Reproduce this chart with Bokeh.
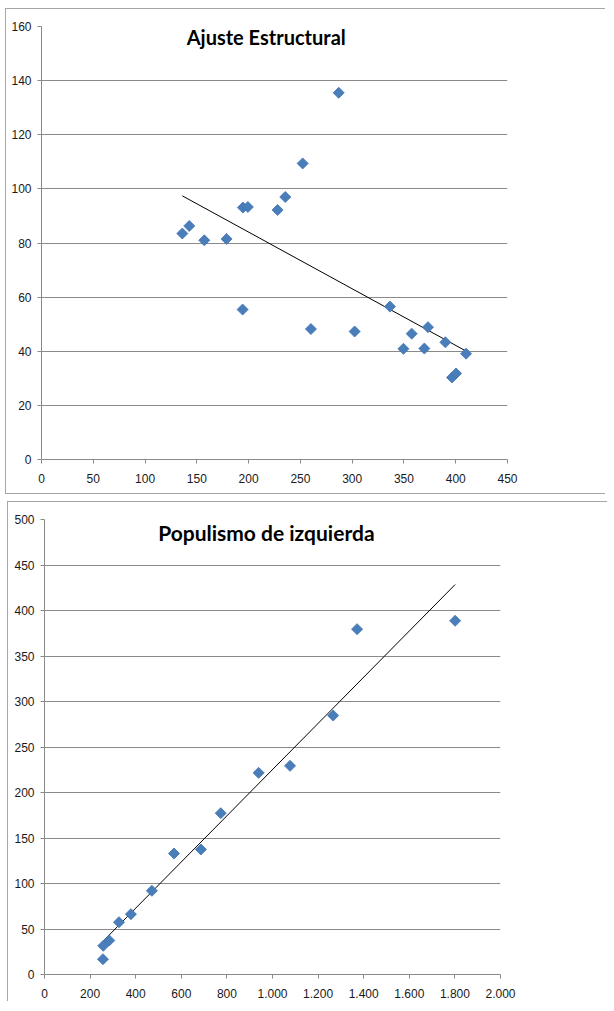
import numpy as np
from bokeh.plotting import figure
from bokeh.models import FixedTicker, Label, Range1d, ColumnDataSource
from bokeh.embed import file_html
from bokeh.resources import INLINE

# ---- Chart 1: Ajuste Estructural ----
title1 = "Ajuste Estructural"
x1 = [136, 142.7, 157.2, 178.7, 194.5, 199.3, 228, 235.4, 252.2, 287,
      194.2, 260.2, 302.4, 336.5, 349.5, 357.5, 369.7, 373.2, 390, 396.4, 400.3, 410]
y1 = [83.5, 86.3, 81, 81.5, 93.1, 93.3, 92.2, 97, 109.4, 135.5,
      55.4, 48.2, 47.3, 56.5, 40.9, 46.5, 41, 48.9, 43.3, 30.3, 31.8, 39.1]
xticks1 = [0, 50, 100, 150, 200, 250, 300, 350, 400, 450]
yticks1 = [0, 20, 40, 60, 80, 100, 120, 140, 160]

# ---- Chart 2: Populismo de izquierda ----
title2 = "Populismo de izquierda"
x2 = [1371, 1801, 1266, 1077, 939, 773, 686, 568, 471, 379, 326.6, 284, 257.7, 256.4]
y2 = [379.5, 388.7, 284.6, 229.3, 221.6, 177.3, 137.4, 133, 92, 66.3, 57.5, 37.4, 31.5, 16.8]
xticks2 = [0, 200, 400, 600, 800, 1000, 1200, 1400, 1600, 1800, 2000]
xlabels2 = ["0", "200", "400", "600", "800", "1.000", "1.200", "1.400", "1.600", "1.800", "2.000"]
yticks2 = [0, 50, 100, 150, 200, 250, 300, 350, 400, 450, 500]

MARK = "#4A7EBB"
GRID = "#8a8a8a"
TICKFONT = "Liberation Sans"
TITLEFONT = "Lato"
BOX = "1px solid #a6a6a6"


def make(xs, ys, xt, yt, xr, yr, title, tx, ty, tsize, w, h, borders, styles):
    p = figure(width=w, height=h, output_backend="svg", toolbar_location=None,
               x_range=Range1d(*xr), y_range=Range1d(*yr),
               min_border_left=borders[0], min_border_right=borders[1],
               min_border_top=borders[2], min_border_bottom=borders[3])
    p.outline_line_color = None
    p.background_fill_color = "white"
    p.border_fill_color = "white"
    p.xgrid.grid_line_color = None
    p.ygrid.grid_line_color = GRID
    p.ygrid.grid_line_width = 1
    p.xaxis.ticker = FixedTicker(ticks=xt)
    p.yaxis.ticker = FixedTicker(ticks=yt)
    for ax in (p.xaxis, p.yaxis):
        ax.axis_line_color = GRID
        ax.major_tick_line_color = GRID
        ax.minor_tick_line_color = None
        ax.major_tick_in = 0
        ax.major_label_text_font = TICKFONT
        ax.major_label_text_font_size = "12px"
        ax.major_label_text_color = "#1a1a1a"
    p.xaxis.major_tick_out = 4
    p.yaxis.major_tick_out = 4
    p.xaxis.major_label_standoff = 10
    p.yaxis.major_label_standoff = 6

    # trend line (least squares) from data
    m, b = np.polyfit(np.array(xs, float), np.array(ys, float), 1)
    lx = [min(xs), max(xs)]
    ly = [m * v + b for v in lx]
    p.line(lx, ly, line_color="black", line_width=1)

    src = ColumnDataSource(dict(x=xs, y=ys))
    p.scatter("x", "y", source=src, marker="square", angle=np.pi / 4, size=7.8,
              fill_color=MARK, line_color="#3F72AE", line_width=0.8)

    p.add_layout(Label(x=tx, y=ty, text=title, text_align="center",
                       text_baseline="middle", text_font=TITLEFONT,
                       text_font_style="bold", text_font_size=tsize,
                       text_color="black"))
    p.styles = styles
    return p


p1 = make(x1, y1, xticks1, yticks1, (0, 450), (0, 160), title1, 217, 156.2, "20px",
          600, 486, (35, 99, 17, 36),
          {"border-left": BOX, "border-top": BOX, "border-bottom": BOX,
           "margin-left": "5px", "margin-top": "8px"})
p2 = make(x2, y2, xticks2, yticks2, (0, 2000), (0, 500), title2, 973, 486, "21px",
          600, 500, (36, 108, 17, 28),
          {"border-left": BOX, "border-top": BOX,
           "margin-left": "7px", "margin-top": "7px"})
p2.xaxis.major_label_overrides = {t: l for t, l in zip(xticks2, xlabels2)}

open("out.html", "w").write(file_html([p1, p2], INLINE))
